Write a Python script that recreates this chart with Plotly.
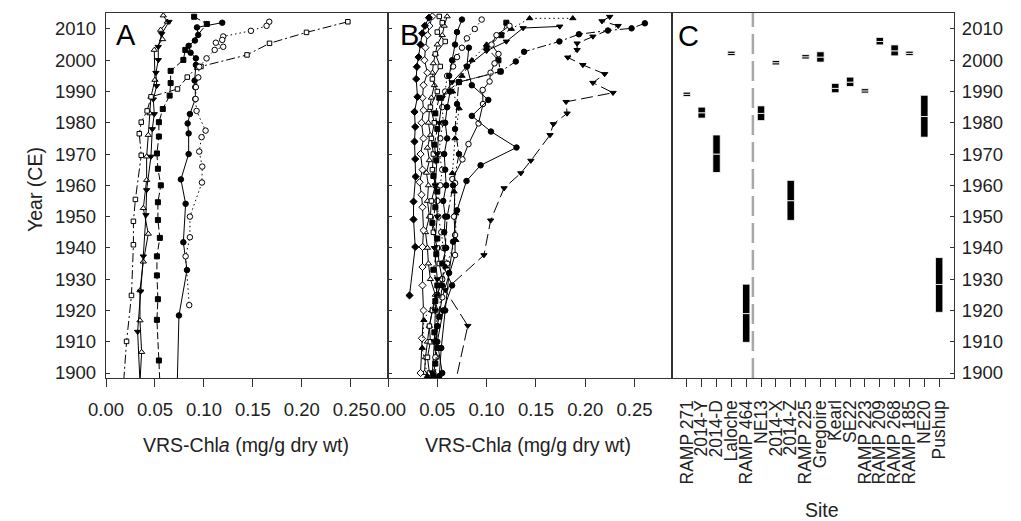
import plotly.graph_objects as go

# ---------------- Panel A data (year, VRS-Chla) ----------------
A1_year = [2014.3, 2012.3, 2009.7, 2006.7, 2003.3, 1993.7, 1988.3, 1983, 1976.1, 1969.2, 1961.7, 1952.7, 1944.5, 1935.6, 1926.4, 1916.8, 1906.7, 1897]
A1_chla = [0.0585, 0.0626, 0.0558, 0.0578, 0.0493, 0.050, 0.0459, 0.0449, 0.0432, 0.0415, 0.0415, 0.0381, 0.0432, 0.0381, 0.0347, 0.0347, 0.0364, 0.0347]

A2_year = [2012.3, 2008.4, 2004.3, 2000.1, 1996, 1991.8, 1987.5, 1982.8, 1978, 1969.2, 1958.5, 1950.5, 1937.3, 1926.1, 1913.2, 1897]
A2_chla = [0.0643, 0.0568, 0.0534, 0.0534, 0.051, 0.0517, 0.0483, 0.0493, 0.0473, 0.0459, 0.0415, 0.0408, 0.0381, 0.0354, 0.0323, 0.0347]

A3_year = [2012.3, 2008.9, 2005.4, 2001.7, 1998, 1997.8, 1994.6, 1990.8, 1988.3, 1983.8, 1980.2, 1976.5, 1969.6, 1955.5, 1948.5, 1941, 1924.8, 1910.1, 1897]
A3_chla = [0.247, 0.2048, 0.167, 0.144, 0.097, 0.093, 0.083, 0.073, 0.046, 0.042, 0.036, 0.034, 0.036, 0.030, 0.028, 0.028, 0.026, 0.021, 0.018]

A4_year = [2013.9, 2011.6, 2003.3, 2000.1, 1996.6, 1992.7, 1988.7, 1984.4, 1980.2, 1975.6, 1970.2, 1965.3, 1960, 1954.6, 1948.9, 1943.2, 1937.3, 1931.2, 1923.6, 1917, 1904, 1897]
A4_chla = [0.090, 0.103, 0.081, 0.079, 0.066, 0.066, 0.065, 0.058, 0.054, 0.054, 0.052, 0.053, 0.056, 0.053, 0.053, 0.055, 0.052, 0.052, 0.053, 0.052, 0.054, 0.055]

A5_year = [2012, 2010.5, 2008.1, 2006.3, 2004.6, 2002.4, 2000.6, 1998.5, 1993.5, 1991.4, 1987.6, 1982.8, 1979.8, 1976.6, 1970, 1961.9, 1954.1, 1941.8, 1932.9, 1918.4, 1897]
A5_chla = [0.1187, 0.0929, 0.0942, 0.0908, 0.0844, 0.0864, 0.0918, 0.0918, 0.0905, 0.0912, 0.0912, 0.0857, 0.0834, 0.0844, 0.0844, 0.0765, 0.0813, 0.079, 0.0827, 0.0745, 0.0728]

A6_year = [2012.3, 2011, 2009.4, 2007.6, 2006.5, 2005.6, 2004.3, 2003.3, 2000.6, 1997.9, 1994.5, 1991.4, 1987.6, 1983.8, 1977.5, 1975.4, 1970.8, 1966, 1960.9, 1950, 1943.4, 1937.3, 1921.7]
A6_chla = [0.1667, 0.164, 0.148, 0.1197, 0.1187, 0.1122, 0.1197, 0.111, 0.1027, 0.0952, 0.0942, 0.0918, 0.0915, 0.0925, 0.1017, 0.0976, 0.0952, 0.0983, 0.098, 0.0857, 0.0857, 0.0813, 0.085]

# ---------------- Panel B data ----------------
B1_year = [2013.6, 2011, 2008.6, 2005, 2001, 1997.9, 1994, 1988.3, 1983.5, 1978.7, 1974, 1968.4, 1962.8, 1954.8, 1949.1, 1940.3, 1924.8]
B1_chla = [0.0415, 0.0374, 0.0347, 0.033, 0.031, 0.0293, 0.0286, 0.0299, 0.0269, 0.0276, 0.0269, 0.0276, 0.028, 0.0259, 0.0259, 0.0276, 0.0218]

B2_year = [2013.9, 2012.5, 2011, 2007.6, 2005.4, 2003.3, 2000.9, 1998.5, 1995.6, 1992.8, 1989.6, 1986.7, 1983, 1979.6, 1976.1, 1967.9, 1963.9, 1959.1, 1948.8, 1937.7, 1926.5, 1915.1, 1897]
B2_chla = [0.2248, 0.217, 0.2334, 0.2078, 0.1918, 0.1918, 0.1823, 0.1976, 0.2197, 0.2078, 0.2282, 0.1806, 0.1816, 0.1677, 0.1643, 0.1449, 0.1347, 0.1177, 0.1041, 0.0973, 0.058, 0.0809, 0.0684]

B3_year = [2011.8, 2010.2, 2009.5, 2008.3, 2006, 2002.7, 1999.6, 1996.4, 1993, 1986, 1978, 1970, 1960, 1950, 1940, 1928, 1915, 1898]
B3_chla = [0.2605, 0.247, 0.223, 0.1936, 0.1738, 0.138, 0.1296, 0.1143, 0.0717, 0.07, 0.068, 0.072, 0.066, 0.06, 0.058, 0.055, 0.05, 0.048]

B4_year = [2004, 1998, 1992, 1987.3, 1982.2, 1977.2, 1972.1, 1966.4, 1961.4, 1952, 1942, 1932, 1920, 1908, 1899]
B4_chla = [0.082, 0.08, 0.085, 0.1017, 0.085, 0.1044, 0.1303, 0.0939, 0.0796, 0.07, 0.066, 0.062, 0.058, 0.054, 0.052]

B5_year = [2011, 2008, 2005, 2002, 1999, 1996, 1993.2, 1990.5, 1986, 1979.8, 1973.2, 1968.3, 1962, 1960.7, 1950, 1944.1, 1937.7, 1924.2, 1915, 1905]
B5_chla = [0.1232, 0.11, 0.105, 0.112, 0.108, 0.104, 0.103, 0.096, 0.0963, 0.0918, 0.0816, 0.0755, 0.0653, 0.068, 0.067, 0.068, 0.068, 0.055, 0.05, 0.048]

B6_year = [2013.4, 2013.4, 2010, 2005, 2000, 1995, 1990, 1984.6, 1975, 1963.9, 1958, 1951, 1942.5, 1934, 1925, 1916.9, 1908, 1899]
B6_chla = [0.1874, 0.1436, 0.125, 0.1, 0.085, 0.075, 0.0655, 0.0721, 0.068, 0.0653, 0.067, 0.0687, 0.0687, 0.0585, 0.05, 0.0364, 0.0347, 0.04]

B7_year = [2010.8, 2010.3, 2006, 2003, 1998, 1993, 1988, 1980, 1970, 1960, 1950, 1940, 1930, 1920, 1910, 1900]
B7_chla = [0.1742, 0.137, 0.12, 0.1, 0.08, 0.065, 0.055, 0.052, 0.05, 0.048, 0.05, 0.047, 0.05, 0.048, 0.047, 0.045]

B8_year = [2012, 2008, 2004, 2000, 1996.4, 1993, 1988, 1983, 1978, 1973, 1968, 1963, 1958, 1953, 1948, 1943, 1938, 1933, 1928, 1923, 1918, 1913, 1908, 1903, 1899]
B8_chla = [0.12, 0.115, 0.1, 0.112, 0.114, 0.072, 0.052, 0.048, 0.05, 0.047, 0.049, 0.046, 0.05, 0.048, 0.045, 0.05, 0.049, 0.046, 0.05, 0.048, 0.052, 0.047, 0.05, 0.048, 0.046]

B9_year = [2014, 2011, 2008, 2004, 2000, 1996, 1992, 1988, 1984, 1980, 1975, 1970, 1965, 1961, 1957, 1953, 1945.6, 1940.3, 1933.9, 1928, 1920, 1911.1, 1900]
B9_chla = [0.045, 0.042, 0.04, 0.038, 0.037, 0.04, 0.036, 0.035, 0.036, 0.034, 0.036, 0.033, 0.035, 0.032, 0.034, 0.035, 0.036, 0.035, 0.035, 0.035, 0.036, 0.0344, 0.033]

B10_year = [2014, 2012, 2009, 2006, 2002, 1998, 1994, 1990, 1985, 1980, 1975, 1970, 1965, 1960, 1955, 1950, 1945, 1940, 1935, 1930, 1925, 1920, 1915, 1910, 1905, 1900]
B10_chla = [0.052, 0.055, 0.05, 0.058, 0.048, 0.053, 0.045, 0.05, 0.043, 0.047, 0.044, 0.046, 0.045, 0.048, 0.044, 0.043, 0.046, 0.05, 0.052, 0.055, 0.05, 0.045, 0.042, 0.043, 0.04, 0.042]

B11_year = [2013, 2010, 2007, 2004, 2001, 1998, 1995, 1990, 1985, 1980, 1975, 1970, 1965, 1960, 1955, 1950, 1945, 1940, 1935, 1930, 1925, 1920, 1915, 1910, 1905, 1900]
B11_chla = [0.095, 0.088, 0.08, 0.075, 0.07, 0.066, 0.06, 0.058, 0.055, 0.056, 0.053, 0.052, 0.055, 0.053, 0.05, 0.051, 0.054, 0.056, 0.06, 0.055, 0.05, 0.048, 0.05, 0.047, 0.049, 0.046]

B12_year = [2014, 2011, 2008, 2005, 2002, 1999, 1996, 1992, 1988, 1984, 1980, 1976, 1972, 1968, 1964, 1960, 1955, 1950, 1945, 1940, 1935, 1930, 1925, 1920, 1915, 1910, 1905, 1900]
B12_chla = [0.06, 0.057, 0.055, 0.05, 0.048, 0.046, 0.045, 0.047, 0.044, 0.042, 0.041, 0.043, 0.04, 0.042, 0.039, 0.041, 0.04, 0.042, 0.038, 0.04, 0.041, 0.043, 0.048, 0.045, 0.042, 0.04, 0.038, 0.037]

B13_year = [2013, 2009, 2005, 2000, 1995, 1990, 1985, 1980, 1975, 1970, 1965, 1960, 1955, 1950, 1945, 1940, 1935, 1928, 1920, 1910, 1900]
B13_chla = [0.075, 0.07, 0.068, 0.065, 0.062, 0.063, 0.06, 0.058, 0.06, 0.057, 0.058, 0.059, 0.056, 0.058, 0.057, 0.059, 0.055, 0.065, 0.056, 0.05, 0.055]

# ---------------- Panel C data ----------------
sites = ["RAMP 271", "2014-Y", "2014-D", "Laloche", "RAMP 464", "NE13", "2014-X", "2014-Z",
         "RAMP 225", "Gregoire", "Kearl", "SE22", "RAMP 223", "RAMP 209", "RAMP 268", "RAMP 185",
         "NE20", "Pushup"]
date_low = [1988.4, 1981.5, 1964.1, 2001.5, 1909.8, 1980.7, 1998.5, 1948.8, 2000.4, 1999.4, 1989.6, 1991.6, 1989.5, 2004.9, 2001.4, 2001.5, 1975.4, 1919.4]
date_mid = [1989.1, 1983.2, 1970.0, 2002.2, 1919.0, 1983.0, 1999.2, 1955.1, 2001.1, 2001.0, 1991.0, 1993.0, 1990.2, 2006.0, 2003.0, 2002.2, 1982.0, 1928.3]
date_high = [1989.8, 1985.0, 1976.1, 2002.9, 1928.4, 1985.4, 1999.9, 1961.6, 2001.8, 2002.7, 1992.6, 1994.6, 1990.9, 2007.3, 2004.9, 2002.9, 1988.8, 1936.9]
divider_pos = 4.45

year_ticks = list(range(1900, 2011, 10))
chla_ticks = [0.0, 0.05, 0.10, 0.15, 0.20, 0.25]
chla_ticktext = ["0.00", "0.05", "0.10", "0.15", "0.20", "0.25"]

FONT = "Liberation Sans, Arial, sans-serif"
TXT = "#222222"
FRAME = "#333333"

# the page body adds an 8px offset; the figure is sized/placed to compensate
OFF = 8
W, H = 1021 - OFF, 521 - OFF
def fx(px):
    return (px - OFF) / W
def fy(py):
    return 1 - (py - OFF) / H

dom_y = [fy(378), fy(13)]
dom_a = [fx(106), fx(388)]
dom_b = [fx(388), fx(672)]
dom_c = [fx(672), fx(954)]

fig = go.Figure()

def add_series(xv, yv, symbol, filled, dash, axis, size=6):
    fig.add_trace(go.Scatter(
        x=xv, y=yv, mode="lines+markers",
        xaxis="x" + axis, yaxis="y" + axis,
        line=dict(color="black", width=1, dash=dash),
        marker=dict(symbol=symbol, size=size,
                    color="black" if filled else "white",
                    line=dict(color="black", width=1)),
        showlegend=False, hoverinfo="skip"))

DASHDOT = "9px,3px,2px,3px"
LONGDASH = "12px,5px"
DASH = "7px,3px"
DOT = "1.5px,3px"

# Panel A
add_series(A1_chla, A1_year, "triangle-up", False, "solid", "", 5.5)
add_series(A2_chla, A2_year, "triangle-down", True, "solid", "", 5.5)
add_series(A3_chla, A3_year, "square", False, DASHDOT, "", 4.5)
add_series(A4_chla, A4_year, "square", True, DASH, "", 5)
add_series(A5_chla, A5_year, "circle", True, "solid", "", 5.5)
add_series(A6_chla, A6_year, "circle", False, DOT, "", 5.5)

# Panel B
add_series(B12_chla, B12_year, "triangle-up", False, "solid", "2", 5.5)
add_series(B9_chla, B9_year, "diamond", False, "solid", "2", 5.5)
add_series(B10_chla, B10_year, "square", False, "solid", "2", 4.5)
add_series(B11_chla, B11_year, "circle", False, DOT, "2", 5.5)
add_series(B13_chla, B13_year, "circle", True, "solid", "2", 5.5)
add_series(B8_chla, B8_year, "square", True, DASH, "2", 5)
add_series(B7_chla, B7_year, "triangle-down", True, "solid", "2", 5.5)
add_series(B6_chla, B6_year, "triangle-up", True, DOT, "2", 5.5)
add_series(B5_chla, B5_year, "circle", False, "solid", "2", 5.5)
add_series(B4_chla, B4_year, "circle", True, "solid", "2", 5.5)
add_series(B3_chla, B3_year, "circle", True, DASHDOT, "2", 5.5)
add_series(B2_chla, B2_year, "triangle-down", True, LONGDASH, "2", 5.5)
add_series(B1_chla, B1_year, "diamond", True, "solid", "2", 5.5)

# Panel C: dating ranges, split at the midpoint
fig.add_trace(go.Bar(
    x=sites, y=[m - l for l, m in zip(date_low, date_mid)], base=date_low,
    xaxis="x3", yaxis="y3", width=0.5,
    marker=dict(color="black", line=dict(color="white", width=0.8)),
    showlegend=False, hoverinfo="skip"))
fig.add_trace(go.Bar(
    x=sites, y=[h - m for m, h in zip(date_mid, date_high)], base=date_mid,
    xaxis="x3", yaxis="y3", width=0.5,
    marker=dict(color="black", line=dict(color="white", width=0.8)),
    showlegend=False, hoverinfo="skip"))

fig.add_shape(type="line", xref="x3", yref="y3 domain",
              x0=divider_pos, x1=divider_pos, y0=0, y1=1,
              line=dict(color="#a8a8a8", width=2.5, dash="20px,7px"))

tickfont = dict(family=FONT, size=18.5, color=TXT)
ax_common = dict(showline=True, linecolor=FRAME, linewidth=1.3, mirror=True,
                 showgrid=False, zeroline=False, automargin=False)

xa = dict(ax_common, range=[0, 0.288], tickvals=chla_ticks, ticktext=chla_ticktext,
          ticks="outside", ticklen=8, tickcolor=FRAME, tickfont=tickfont,
          ticklabelstandoff=7)
ya = dict(ax_common, range=[1898.4, 2015.1], tickvals=year_ticks,
          ticks="inside", ticklen=4, tickcolor=FRAME, tickfont=tickfont)

fig.update_layout(
    width=W, height=H, autosize=False,
    margin=dict(l=0, r=0, t=0, b=0, pad=0),
    paper_bgcolor="white", plot_bgcolor="white",
    barmode="overlay", showlegend=False,
    xaxis=dict(xa, domain=dom_a, anchor="y"),
    yaxis=dict(ya, domain=dom_y, anchor="x", ticklabelstandoff=5),
    xaxis2=dict(xa, domain=dom_b, anchor="y2"),
    yaxis2=dict(ya, domain=dom_y, anchor="x2", showticklabels=False),
    xaxis3=dict(ax_common, domain=dom_c, anchor="y3", type="category",
                categoryorder="array", categoryarray=sites, range=[-1, 18],
                tickmode="array", tickvals=sites, ticktext=sites,
                ticks="outside", ticklen=8, tickcolor=FRAME, tickangle=-90,
                ticklabelstandoff=6,
                tickfont=dict(family=FONT, size=17.5, color=TXT)),
    yaxis3=dict(ya, domain=dom_y, anchor="x3", side="right", ticklabelstandoff=3),
)

title_font = dict(family=FONT, size=19.5, color=TXT)
letter_font = dict(family=FONT, size=29, color="black")
annots = [
    dict(text="A", x=fx(126), y=fy(35), font=letter_font),
    dict(text="B", x=fx(409), y=fy(35), font=letter_font),
    dict(text="C", x=fx(688), y=fy(36), font=letter_font),
    dict(text="VRS-Chl<i>a</i> (mg/g dry wt)", x=fx(246), y=fy(445), font=title_font),
    dict(text="VRS-Chl<i>a</i> (mg/g dry wt)", x=fx(528), y=fy(445), font=title_font),
    dict(text="Site", x=fx(822), y=fy(510), font=title_font),
    dict(text="Year (CE)", x=fx(35), y=fy(190), font=title_font, textangle=-90),
]
for a in annots:
    fig.add_annotation(xref="paper", yref="paper", showarrow=False,
                       xanchor="center", yanchor="middle", **a)

fig.write_html("out.html")
